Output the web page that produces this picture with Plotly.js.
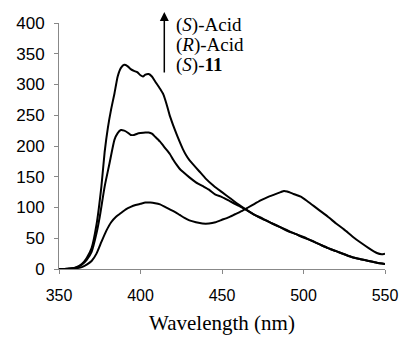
<!DOCTYPE html>
<html>
<head>
<meta charset="utf-8">
<script src="https://cdn.plot.ly/plotly-3.0.1.min.js"></script>
<style>html,body{margin:0;padding:0;background:#fff;}#chart{width:399px;height:339px;}</style>
</head>
<body>
<div id="chart"></div>
<script>
// S-Acid (top curve)
const wlSAcid = [350,355,360,364,367,370,373,376,378,380,382,384,386,388,390,392,394,396,398,400,401.5,403,405,407,409,412,414,416,418,420,422,424,426,428,430,432,436,440,445,450,455,460,465,470,475,480,485,490,495,500,505,510,515,520,525,530,535,540,545,550];
const valSAcid = [0,0.5,2,8,18,34,72,134,190,230,260,285,313,327,332,330,325,322,320,315,313,316,317,313,305,293,284,268,249,234,220,207,195,185,177,171,159,147,135,125,115,105,96,88,81,75,69,63,57,52,46,40,34,29,24,19,16,13,10,8];

// R-Acid (middle curve)
const wlRAcid = [350,355,360,364,367,370,373,375,378,381,384,386,388,390,392,394,396,398,400,403,405,407,409,412,415,418,420,422,424,426,430,434,438,442,446,450,455,460,465,470,475,480,485,490,495,500,505,510,515,520,525,530,535,540,545,550];
const valRAcid = [0,0.5,2,7,15,28,58,85,134,172,210,221,226,225,222,218,218,220,221,222,222,220,215,207,197,187,178,170,163,158,149,141,135,129,121,117,110,103,96,88,82,75,69,62,57,51,46,40,34,29,24,19,16,13,10,8];

// (S)-11 (lower curve)
const wlS11 = [350,355,360,364,367,370,373,376,379,382,385,388,391,394,397,400,403,406,409,412,415,418,421,424,427,430,434,438,442,446,450,454,458,462,466,470,474,478,482,486,488,490,494,498,502,506,510,515,520,525,530,535,540,545,548,550];
const valS11 = [0,0,1,3,7,13,25,44,62,76,85,91,97,101,104,106,108,108,107,105,101,97,93,88,83,79,76,74,74,76,80,84,89,94,100,106,112,117,121,125,127,126,122,118,111,103,95,85,74,64,53,43,34,26,24,25];

const xTicks = [350,400,450,500,550];
const yTicks = [0,50,100,150,200,250,300,350,400];
const legendLines = ['(<i>S</i>)-Acid', '(<i>R</i>)-Acid', '(<i>S</i>)-<b>11</b>'];

const lineStyle = {color:'#000', width:2, shape:'spline', smoothing:0.5};
const data = [
  {x:wlSAcid, y:valSAcid, mode:'lines', line:lineStyle, name:'(S)-Acid'},
  {x:wlRAcid, y:valRAcid, mode:'lines', line:lineStyle, name:'(R)-Acid'},
  {x:wlS11, y:valS11, mode:'lines', line:lineStyle, name:'(S)-11'}
];

const serif = 'Times New Roman, Liberation Serif, serif';
const sans = 'Arial, Liberation Sans, sans-serif';
const legendY = [0.992, 0.911, 0.829];

const annotations = [
  {xref:'paper', yref:'paper', x:0.323, y:1.045, ax:0, ay:62, text:'', showarrow:true,
   arrowhead:2, arrowsize:1.2, arrowwidth:1.5, arrowcolor:'#000'}
].concat(legendLines.map((t, i) => ({
  xref:'paper', yref:'paper', x:0.352, y:legendY[i], xanchor:'left', yanchor:'middle', align:'left',
  showarrow:false, text:t, font:{family:serif, size:19, color:'#000'}
})));

const layout = {
  width:399, height:339,
  margin:{l:59, r:14, t:23, b:70},
  paper_bgcolor:'#fff', plot_bgcolor:'#fff',
  showlegend:false,
  font:{family:sans, size:16, color:'#000'},
  xaxis:{
    range:[350,550], tickvals:xTicks, ticktext:xTicks.map(String),
    showgrid:false, zeroline:false, showline:true, linecolor:'#888', linewidth:1,
    ticks:'outside', ticklen:4, tickcolor:'#888', ticklabelstandoff:8,
    ticklabeloverflow:'allow',
    tickfont:{family:sans, size:16, color:'#000'},
    title:{text:'Wavelength (nm)', font:{family:serif, size:21, color:'#000'}, standoff:12}
  },
  yaxis:{
    range:[0,400], tickvals:yTicks, ticktext:yTicks.map(String),
    showgrid:false, zeroline:false, showline:true, linecolor:'#888', linewidth:1,
    ticks:'outside', ticklen:4, tickcolor:'#888', ticklabelstandoff:6,
    ticklabeloverflow:'allow',
    tickfont:{family:sans, size:17, color:'#000'}
  },
  annotations:annotations
};

Plotly.newPlot('chart', data, layout, {displayModeBar:false, staticPlot:true});
</script>
</body>
</html>
